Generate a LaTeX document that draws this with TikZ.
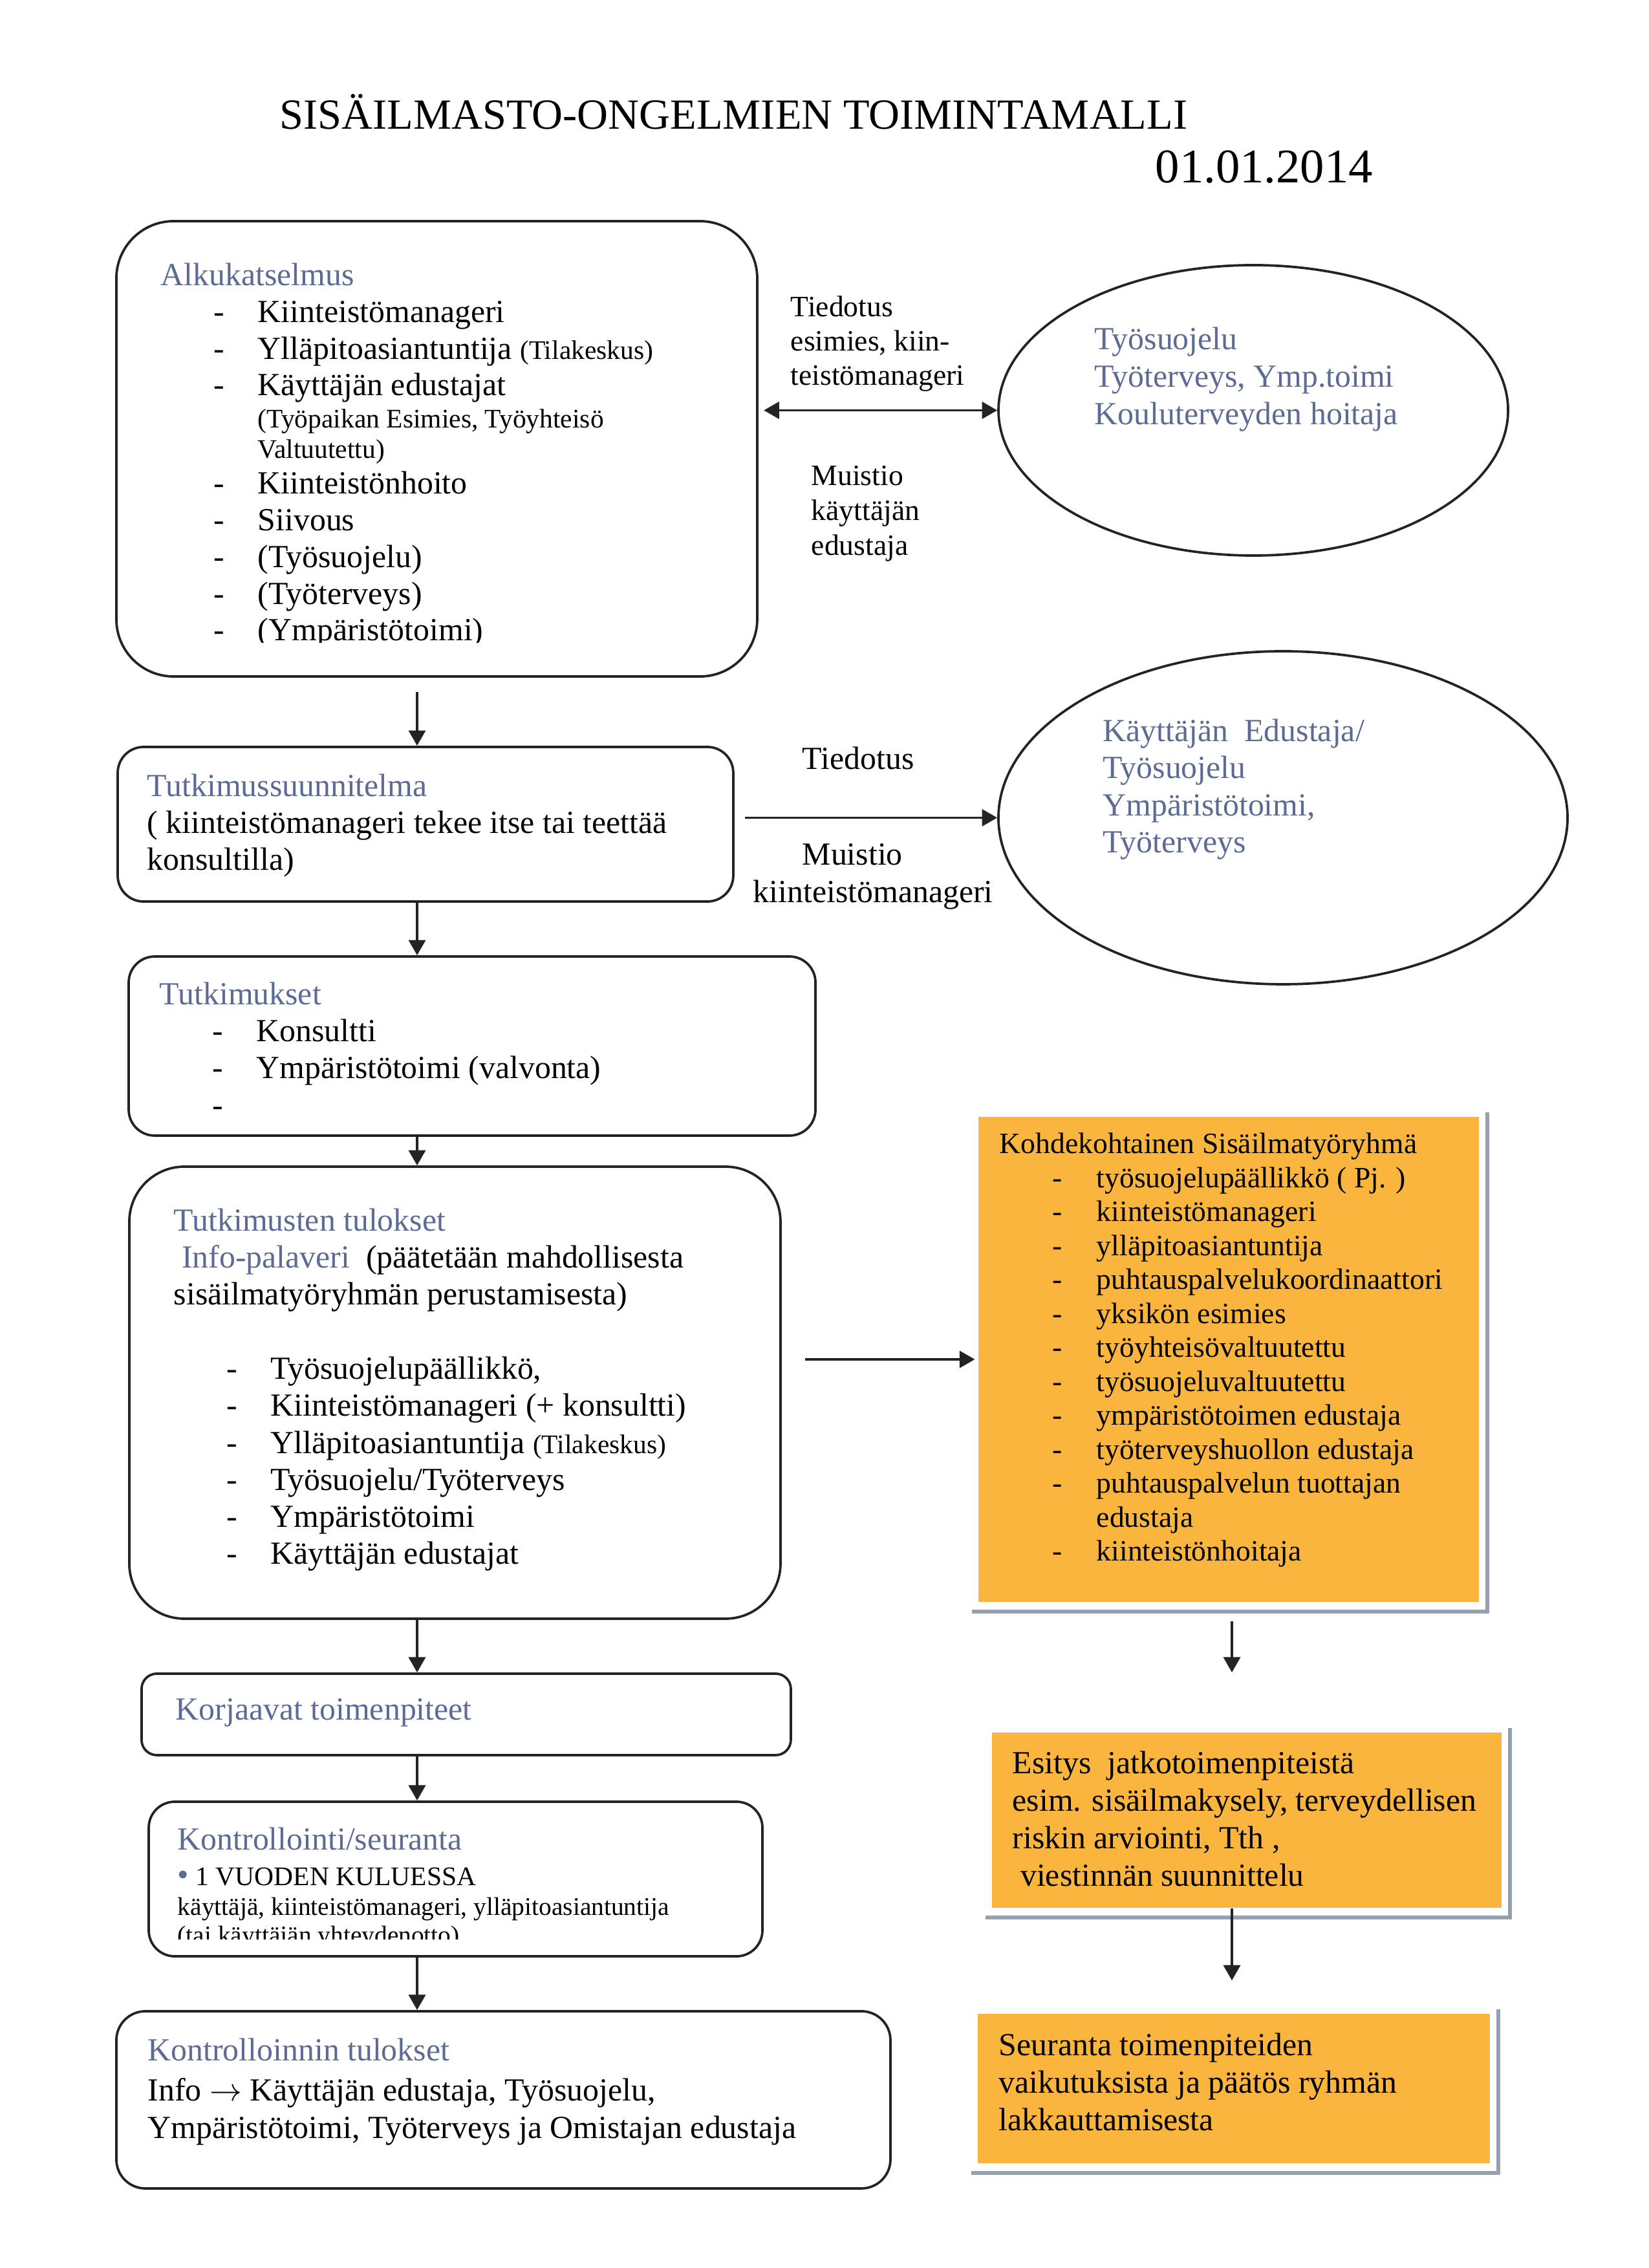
\documentclass[tikz,border=0pt]{standalone}
\usepackage{fontspec}
\setmainfont{Liberation Serif}
\usepackage{tikz}
\usetikzlibrary{arrows.meta,positioning,shapes.geometric}

\definecolor{headblue}{RGB}{92,106,150}
\definecolor{orangefill}{RGB}{249,181,62}
\definecolor{shadowgray}{RGB}{150,160,174}
\definecolor{linegray}{RGB}{35,35,35}

\newcommand{\itemdash}{\hspace*{0.69cm}\makebox[0.58cm][l]{-}}
\newcommand{\itemgap}{\hspace*{1.27cm}}

\begin{document}
\begin{tikzpicture}[>={Triangle[length=2mm,width=2.2mm]},
  box/.style={draw=linegray, line width=0.9pt, rounded corners=#1, inner sep=0pt},
  box/.default=3.4mm,
  oval/.style={draw=linegray, line width=0.9pt, ellipse, inner sep=0pt},
  orangebox/.style={fill=orangefill, inner sep=0pt},
  shadowline/.style={draw=shadowgray, line width=1.4pt},
  txt/.style={anchor=north west, inner sep=0pt, align=left, font=\fontsize{12}{13.7}\selectfont},
  link/.style={draw=linegray, line width=0.9pt, ->}]
\useasboundingbox (0,0) rectangle (21.59,-29.693);

% title
\node[anchor=base west, inner sep=0pt, font=\fontsize{16}{19}\selectfont] (title) at (3.658,-1.685) {SISÄILMASTO-ONGELMIEN TOIMINTAMALLI};
\node[anchor=base west, inner sep=0pt, font=\fontsize{18}{21}\selectfont] (date) at (15.121,-2.388) {01.01.2014};

% left column
\node[box=7.5mm, minimum width=8.391cm, minimum height=5.961cm] (alku) at (5.719,-5.876) {};
\node[box, minimum width=8.060cm, minimum height=2.024cm] (plan) at (5.571,-10.791) {};
\node[box, minimum width=8.992cm, minimum height=2.345cm] (tutk) at (6.181,-13.695) {};
\node[box=7.2mm, minimum width=8.526cm, minimum height=5.918cm] (tulos) at (5.956,-18.233) {};
\node[box=2mm, minimum width=8.501cm, minimum height=1.067cm] (korj) at (6.104,-22.445) {};
\node[box, minimum width=8.035cm, minimum height=2.024cm] (kontr) at (5.965,-24.600) {};
\node[box=3.8mm, minimum width=10.135cm, minimum height=2.320cm] (ktul) at (6.591,-27.491) {};

% ellipses
\node[oval, minimum width=6.672cm, minimum height=3.802cm] (tyo) at (16.409,-5.372) {};
\node[oval, minimum width=7.451cm, minimum height=4.360cm] (kay) at (16.798,-10.706) {};

% orange boxes
\node[orangebox, minimum width=6.553cm, minimum height=6.350cm] (ryhma) at (16.087,-17.797) {};
\node[orangebox, minimum width=6.672cm, minimum height=2.294cm] (esitys) at (16.324,-23.829) {};
\node[orangebox, minimum width=6.706cm, minimum height=1.956cm] (seur) at (16.154,-27.343) {};
\draw[shadowline] ([shift={(1mm,0.5mm)}]ryhma.north east) |- ([shift={(-0.8mm,-1.2mm)}]ryhma.south west);
\draw[shadowline] ([shift={(1mm,0.5mm)}]esitys.north east) |- ([shift={(-0.8mm,-1.2mm)}]esitys.south west);
\draw[shadowline] ([shift={(1mm,0.5mm)}]seur.north east) |- ([shift={(-0.8mm,-1.2mm)}]seur.south west);

% texts
\begin{scope}
\clip (alku.north west) rectangle ([yshift=4.57mm]alku.south east);
\node[txt] (alkutxt) at (2.100,-3.437) {{\color{headblue}Alkukatselmus}\\
\itemdash Kiinteistömanageri\\
\itemdash Ylläpitoasiantuntija {\fontsize{10}{11}\selectfont(Tilakeskus)}\\
\itemdash Käyttäjän edustajat\\[-1.8pt]
\itemgap{\fontsize{10}{11}\selectfont(Työpaikan Esimies, Työyhteisö}\\[-2.4pt]
\itemgap{\fontsize{10}{11}\selectfont Valtuutettu)}\\[-0.4pt]
\itemdash Kiinteistönhoito\\
\itemdash Siivous\\
\itemdash (Työsuojelu)\\
\itemdash (Työterveys)\\
\itemdash (Ympäristötoimi)};
\end{scope}

\node[txt, font=\fontsize{11}{12.75}\selectfont] (tied1) at (10.346,-3.869) {Tiedotus\\esimies, kiin-\\teistömanageri};
\node[txt, font=\fontsize{11}{13}\selectfont] (muist1) at (10.617,-6.088) {Muistio\\käyttäjän\\edustaja};
\node[txt, text=headblue, font=\fontsize{12}{14}\selectfont] (tyotxt) at (14.326,-4.276) {Työsuojelu\\Työterveys, Ymp.toimi\\Kouluterveyden hoitaja};

\node[txt] (plantxt) at (1.922,-10.126) {{\color{headblue}Tutkimussuunnitelma}\\( kiinteistömanageri tekee itse tai teettää\\konsultilla)};
\node[txt] (tied2) at (10.499,-9.770) {Tiedotus};
\node[txt, font=\fontsize{12}{14}\selectfont] (muist2) at (9.855,-11.041) {\hspace*{0.643cm}Muistio\\kiinteistömanageri};
\node[txt, text=headblue, font=\fontsize{12}{13.8}\selectfont] (kaytxt) at (14.436,-9.407) {Käyttäjän\ \ Edustaja/\\Työsuojelu\\Ympäristötoimi,\\Työterveys};

\node[txt, font=\fontsize{12}{13.8}\selectfont] (tutktxt) at (2.083,-12.852) {{\color{headblue}Tutkimukset}\\\itemdash Konsultti\\\itemdash Ympäristötoimi (valvonta)\\\itemdash};

\node[txt, font=\fontsize{12}{13.8}\selectfont] (tulostxt) at (2.269,-15.816) {{\color{headblue}Tutkimusten tulokset}\\
\ {\color{headblue}Info-palaveri}\ \ (päätetään mahdollisesta\\
sisäilmatyöryhmän perustamisesta)\\[13.8pt]
\itemdash Työsuojelupäällikkö,\\
\itemdash Kiinteistömanageri (+ konsultti)\\
\itemdash Ylläpitoasiantuntija {\fontsize{10}{11}\selectfont(Tilakeskus)}\\
\itemdash Työsuojelu/Työterveys\\
\itemdash Ympäristötoimi\\
\itemdash Käyttäjän edustajat};

\node[txt, font=\fontsize{11}{12.65}\selectfont] (ryhmatxt) at (13.081,-14.825) {Kohdekohtainen Sisäilmatyöryhmä\\
\itemdash työsuojelupäällikkö ( Pj. )\\
\itemdash kiinteistömanageri\\
\itemdash ylläpitoasiantuntija\\
\itemdash puhtauspalvelukoordinaattori\\
\itemdash yksikön esimies\\
\itemdash työyhteisövaltuutettu\\
\itemdash työsuojeluvaltuutettu\\
\itemdash ympäristötoimen edustaja\\
\itemdash työterveyshuollon edustaja\\
\itemdash puhtauspalvelun tuottajan\\
\itemgap edustaja\\
\itemdash kiinteistönhoitaja};

\node[txt, font=\fontsize{12}{13.95}\selectfont] (esitystxt) at (13.250,-22.919) {Esitys\ \ jatkotoimenpiteistä\\esim. sisäilmakysely, terveydellisen\\riskin arviointi, Tth ,\\\ viestinnän suunnittelu};
\node[txt, font=\fontsize{12}{14}\selectfont] (seurtxt) at (13.073,-26.611) {Seuranta toimenpiteiden\\vaikutuksista ja päätös ryhmän\\lakkauttamisesta};

\node[txt, text=headblue] (korjtxt) at (2.294,-22.234) {Korjaavat toimenpiteet};

\begin{scope}
\clip (kontr.north west) rectangle ([yshift=2.38mm]kontr.south east);
\node[txt] (kontrtxt) at (2.320,-23.918) {{\color{headblue}Kontrollointi/seuranta}\\[-0.5pt]
{\fontsize{10}{11}\selectfont{\color{headblue}\large•} 1 VUODEN KULUESSA}\\[-2.65pt]
{\fontsize{9.5}{11}\selectfont käyttäjä, kiinteistömanageri, ylläpitoasiantuntija}\\[-2.9pt]
{\fontsize{9.5}{11}\selectfont (tai käyttäjän yhteydenotto)}};
\end{scope}

\node[txt, font=\fontsize{12}{13.9}\selectfont] (ktultxt) at (1.930,-26.679) {{\color{headblue}Kontrolloinnin tulokset}\\[1pt]
Info $\rightarrow$ Käyttäjän edustaja, Työsuojelu,\\
Ympäristötoimi, Työterveys ja Omistajan edustaja};

% connectors
\coordinate (spine) at (5.461,0);
\coordinate (rspine) at (16.129,0);
\draw[link, shorten <=1.9mm] (alku.south -| spine) -- (plan.north -| spine);
\draw[link] (plan.south -| spine) -- (tutk.north -| spine);
\draw[link] (tutk.south -| spine) -- (tulos.north -| spine);
\draw[link] (tulos.south -| spine) -- (korj.north -| spine);
\draw[link] (korj.south -| spine) -- (kontr.north -| spine);
\draw[link] (kontr.south -| spine) -- (ktul.north -| spine);
\draw[link, <->, shorten <=0.7mm] (tyo.west -| alku.east) -- (tyo.west);
\draw[link, shorten <=1.4mm] (kay.west -| plan.east) -- (kay.west);
\draw[link, shorten <=3.1mm, shorten >=0.4mm] (ryhma.west -| tulos.east) -- (ryhma.west);
\draw[link, shorten <=2.5mm, shorten >=7.8mm] (ryhma.south -| rspine) -- (esitys.north -| rspine);
\draw[link, shorten >=4.3mm] (esitys.south -| rspine) -- (seur.north -| rspine);
\end{tikzpicture}
\end{document}
